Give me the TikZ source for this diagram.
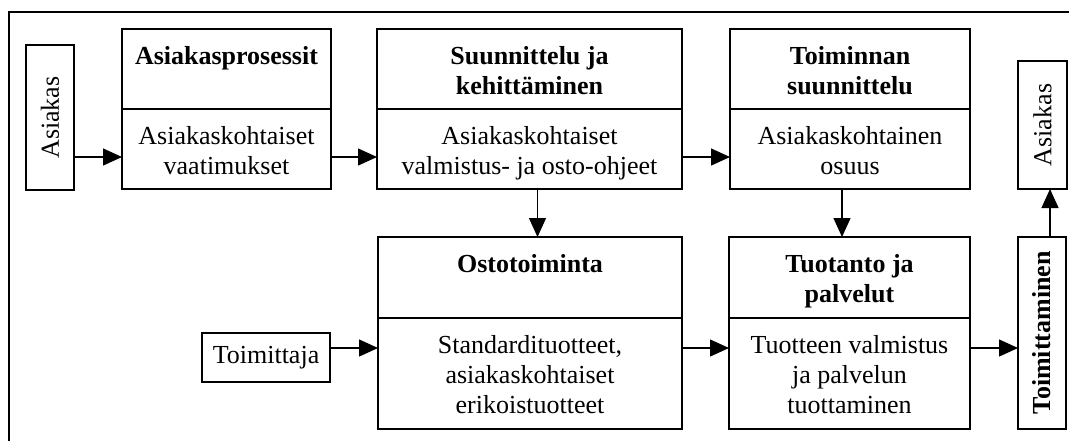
\documentclass[tikz,border=0pt]{standalone}
\usepackage{fontspec}
\setmainfont{Liberation Serif}
\usetikzlibrary{fit}
\usetikzlibrary{positioning}
\usetikzlibrary{arrows.meta}

\begin{document}
\begin{tikzpicture}[
  x=0.5pt, y=-0.5pt,
  cell/.style={draw, rectangle, line width=1pt},
  head/.style={font=\fontsize{13}{15}\selectfont\bfseries, align=center, inner sep=0pt},
  body/.style={font=\fontsize{13}{15}\selectfont, align=center, inner sep=0pt},
  arr/.style={line width=0.6pt, -{Triangle[length=9.5pt,width=8.5pt]}},
]

\useasboundingbox (0,0) rectangle (1069,441);
\draw[line width=1pt] (9,441) -- (9,12) -- (1069,12);

\begin{scope}[inner sep=0pt, outer sep=0pt]
  \node (asL) [cell, fit={(26,45) (74,190)}, label={[body, rotate=90]center:Asiakas}] {};
  \node (asprT) [cell, fit={(122,29) (331,109)}] {};
  \node (asprB) [cell, fit={(122,109) (331,189)}] {};
  \node (suunT) [cell, fit={(377,29) (682,109)}] {};
  \node (suunB) [cell, fit={(377,109) (682,189)}] {};
  \node (toimT) [cell, fit={(730,29) (970,109)}] {};
  \node (toimB) [cell, fit={(730,109) (970,189)}] {};
  \node (asR) [cell, fit={(1018,61) (1067,189)}, label={[body, rotate=90]center:Asiakas}] {};
\end{scope}

\node (asprTt) [head, below=8.5pt of asprT.north] {Asiakasprosessit};
\node (asprBt) [body, below=8.5pt of asprB.north] {Asiakaskohtaiset\\vaatimukset};
\node (suunTt) [head, below=8.5pt of suunT.north] {Suunnittelu ja\\kehittäminen};
\node (suunBt) [body, below=8.5pt of suunB.north] {Asiakaskohtaiset\\valmistus- ja osto-ohjeet};
\node (toimTt) [head, below=8.5pt of toimT.north] {Toiminnan\\suunnittelu};
\node (toimBt) [body, below=8.5pt of toimB.north] {Asiakaskohtainen\\osuus};

\begin{scope}[inner sep=0pt, outer sep=0pt]
  \node (toimja) [cell, fit={(202,333) (330,382)}, label={[body]center:Toimittaja}] {};
  \node (ostoT) [cell, fit={(378,237) (682,318)}] {};
  \node (ostoB) [cell, fit={(378,318) (682,429)}] {};
  \node (tuotT) [cell, fit={(729,237) (970,318)}] {};
  \node (tuotB) [cell, fit={(729,318) (970,429)}] {};
  \node (toimtn) [cell, fit={(1018,237) (1066,429)}, label={[head, rotate=90]center:Toimittaminen}] {};
\end{scope}

\node (ostoTt) [head, below=8.5pt of ostoT.north] {Ostotoiminta};
\node (ostoBt) [body, below=8.5pt of ostoB.north] {Standardituotteet,\\asiakaskohtaiset\\erikoistuotteet};
\node (tuotTt) [head, below=8.5pt of tuotT.north] {Tuotanto ja\\palvelut};
\node (tuotBt) [body, below=8.5pt of tuotB.north] {Tuotteen valmistus\\ja palvelun\\tuottaminen};

\draw[arr] ([yshift=-4pt]asprB.west -| asL.east) -- ([yshift=-4pt]asprB.west);
\draw[arr] ([yshift=-4pt]asprB.east) -- ([yshift=-4pt]suunB.west);
\draw[arr] ([yshift=-4pt]suunB.east) -- ([yshift=-4pt]toimB.west);
\draw[arr] ([xshift=4pt]suunB.south) -- ([xshift=4pt]suunB.south |- ostoT.north);
\draw[arr] ([xshift=-4pt]toimB.south) -- ([xshift=-4pt]toimB.south |- tuotT.north);
\draw[arr] ([yshift=4.75pt]toimja.east) -- ([yshift=4.75pt]toimja.east -| ostoB.west);
\draw[arr] ([yshift=12.75pt]ostoB.east) -- ([yshift=12.75pt]tuotB.west);
\draw[arr] ([yshift=12.75pt]tuotB.east) -- ([yshift=12.75pt]tuotB.east -| toimtn.west);
\draw[arr] ([xshift=4pt]toimtn.north) -- ([xshift=4pt]toimtn.north |- asR.south);

\end{tikzpicture}
\end{document}
